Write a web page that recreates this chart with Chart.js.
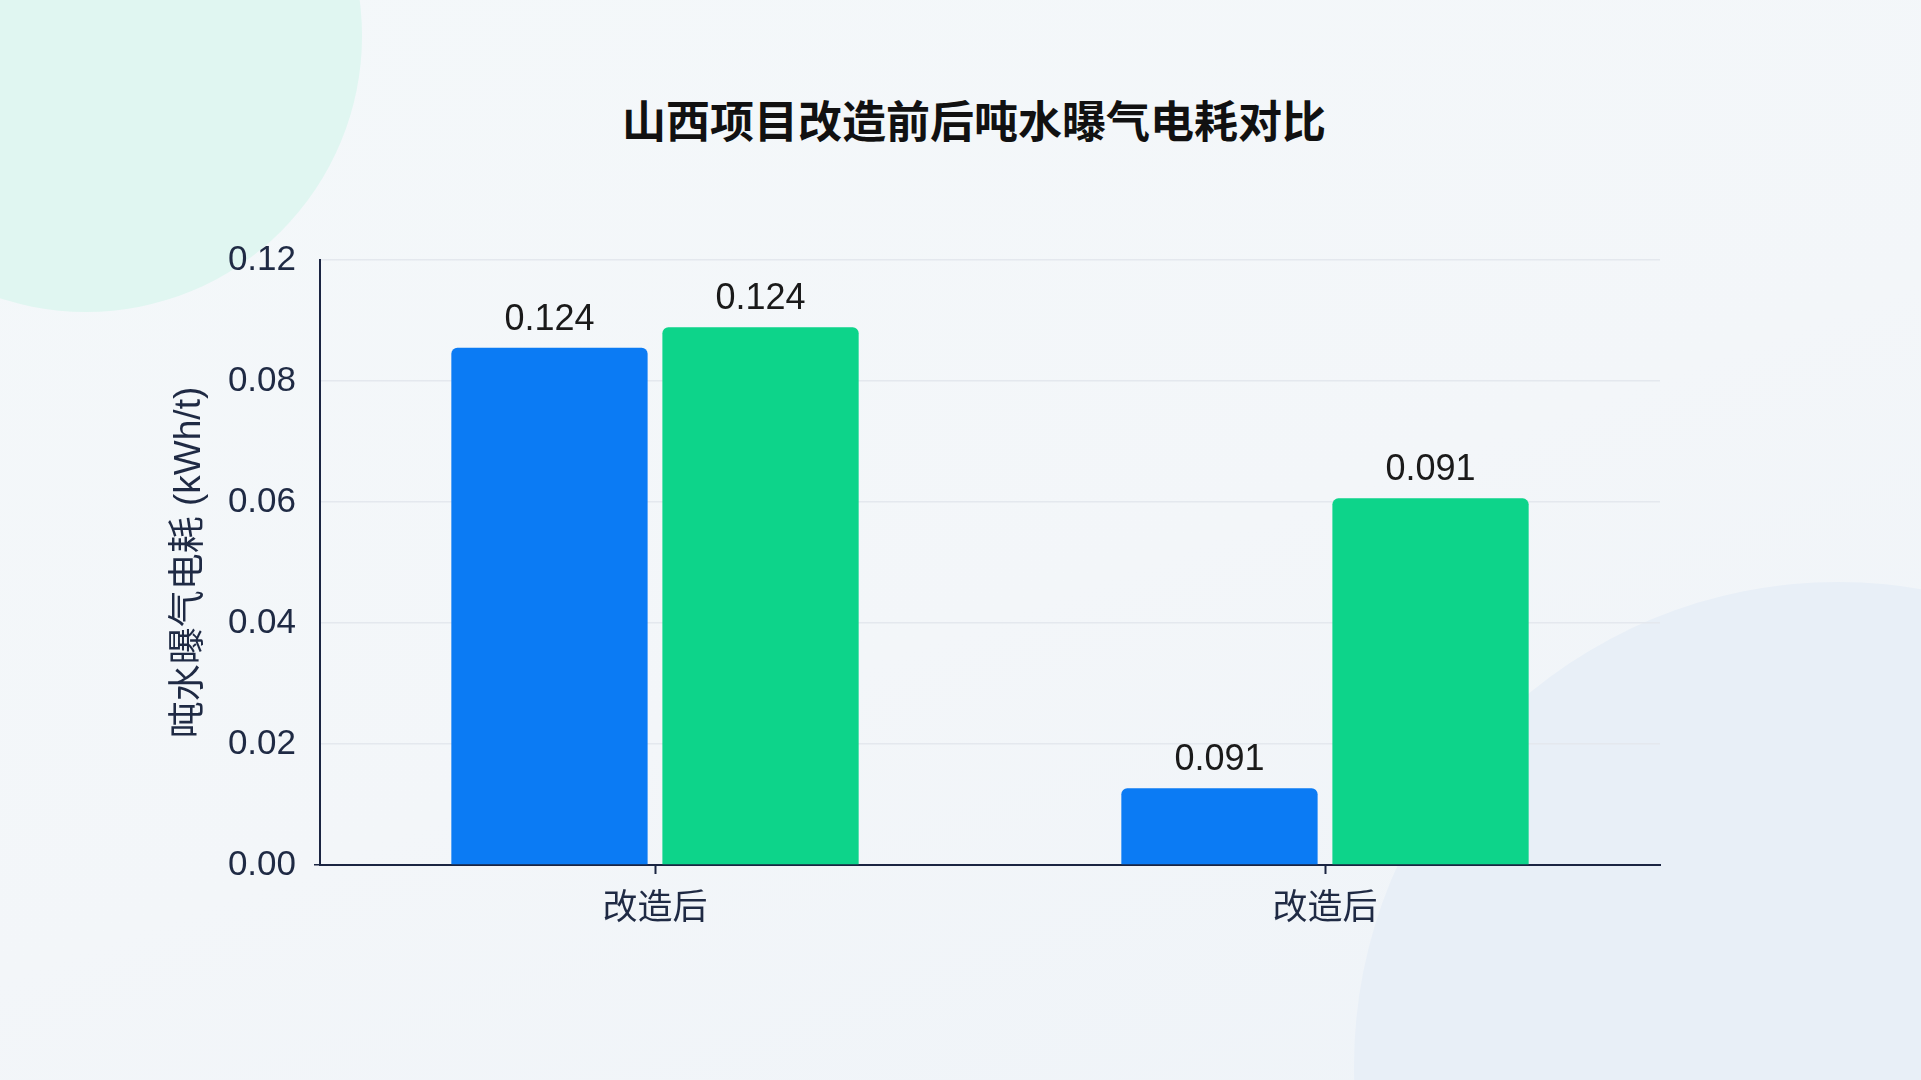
<!DOCTYPE html>
<html lang="zh">
<head>
<meta charset="utf-8">
<title>山西项目改造前后吨水曝气电耗对比</title>
<script src="https://cdn.jsdelivr.net/npm/chart.js@4/dist/chart.umd.min.js"></script>
<style>
    html, body { margin: 0; padding: 0; }
    body {
        width: 1921px; height: 1080px; overflow: hidden; position: relative;
        background: linear-gradient(160deg, #f4f8fa 0%, #f3f6f9 55%, #eef3f8 100%);
        font-family: 'Liberation Sans', 'Noto Sans CJK SC', sans-serif;
    }
    .blob { position: absolute; border-radius: 50%; }
    .blob.mint { left: -190px; top: -240px; width: 552px; height: 552px; background: #e0f6f1; }
    .blob.blue { left: 1354px; top: 582px; width: 968px; height: 968px; background: #e8eff7; }
    h1 {
        position: absolute; left: 0; top: 92px; width: 1948px; margin: 0;
        text-align: center; font: 700 44px 'Noto Sans CJK SC', sans-serif; color: #111;
        line-height: 54px;
    }
    #wrap { position: absolute; left: 0; top: 0; width: 1921px; height: 1080px; }
</style>
</head>
<body>
<div class="blob mint"></div>
<div class="blob blue"></div>
<h1>山西项目改造前后吨水曝气电耗对比</h1>
<div id="wrap"><canvas id="chart"></canvas></div>
<script>
// Values as drawn in the reference (bar heights), and the labels printed above the bars
const categories = ['改造后', '改造后'];
const blueValues = [0.0855, 0.0127];
const greenValues = [0.0889, 0.0606];
const blueLabels = ['0.124', '0.091'];
const greenLabels = ['0.124', '0.091'];
// Y tick labels as printed (bottom to top)
const yTickLabels = ['0.00', '0.02', '0.04', '0.06', '0.08', '0.12'];
const yTitle = '吨水曝气电耗 (kWh/t)';

const NAVY = '#1b2542';
const FONT = "'Liberation Sans', 'Noto Sans CJK SC', sans-serif";

const barLabels = {
    id: 'barLabels',
    afterDatasetsDraw(chart) {
        const ctx = chart.ctx;
        const texts = [blueLabels, greenLabels];
        ctx.save();
        ctx.font = '36px ' + FONT;
        ctx.fillStyle = '#1a1a1a';
        ctx.textAlign = 'center';
        ctx.textBaseline = 'middle';
        chart.data.datasets.forEach((ds, di) => {
            chart.getDatasetMeta(di).data.forEach((bar, i) => {
                ctx.fillText(texts[di][i], bar.x, bar.y - 28);
            });
        });
        ctx.restore();
    }
};

new Chart(document.getElementById('chart'), {
    type: 'bar',
    data: {
        labels: categories,
        datasets: [
            {
                label: '改造前',
                data: blueValues,
                backgroundColor: '#0b7bf4',
                borderRadius: 6,
                borderSkipped: 'start',
                categoryPercentage: 0.63,
                barPercentage: 0.93
            },
            {
                label: '改造后',
                data: greenValues,
                backgroundColor: '#0dd48a',
                borderRadius: 6,
                borderSkipped: 'start',
                categoryPercentage: 0.63,
                barPercentage: 0.93
            }
        ]
    },
    options: {
        responsive: true,
        maintainAspectRatio: false,
        animation: false,
        layout: { padding: { left: 0, right: 261, top: 260, bottom: 0 } },
        plugins: {
            legend: { display: false },
            tooltip: { enabled: false }
        },
        scales: {
            x: {
                grid: {
                    offset: false,
                    drawOnChartArea: false,
                    drawTicks: true,
                    tickLength: 9,
                    tickColor: NAVY,
                    tickWidth: 2
                },
                border: { color: NAVY, width: 2 },
                ticks: {
                    color: '#1f2a44',
                    font: { size: 35, family: FONT },
                    padding: 14
                },
                afterFit: (s) => { s.height = 215; }
            },
            y: {
                min: 0,
                max: 0.10,
                ticks: {
                    stepSize: 0.02,
                    color: '#1f2a44',
                    font: { size: 35, family: FONT },
                    padding: 18,
                    callback: (v, i) => yTickLabels[i]
                },
                grid: {
                    color: '#e4e8ee',
                    lineWidth: 1.5,
                    tickLength: 6,
                    tickColor: (c) => (c.index === 0 ? NAVY : 'rgba(0,0,0,0)')
                },
                border: { color: NAVY, width: 2 },
                title: {
                    display: true,
                    text: yTitle,
                    color: '#1f2a44',
                    font: { size: 37, family: FONT },
                    padding: { top: 168 }
                },
                afterFit: (s) => { s.width = 320; }
            }
        }
    },
    plugins: [barLabels]
});
</script>
</body>
</html>
